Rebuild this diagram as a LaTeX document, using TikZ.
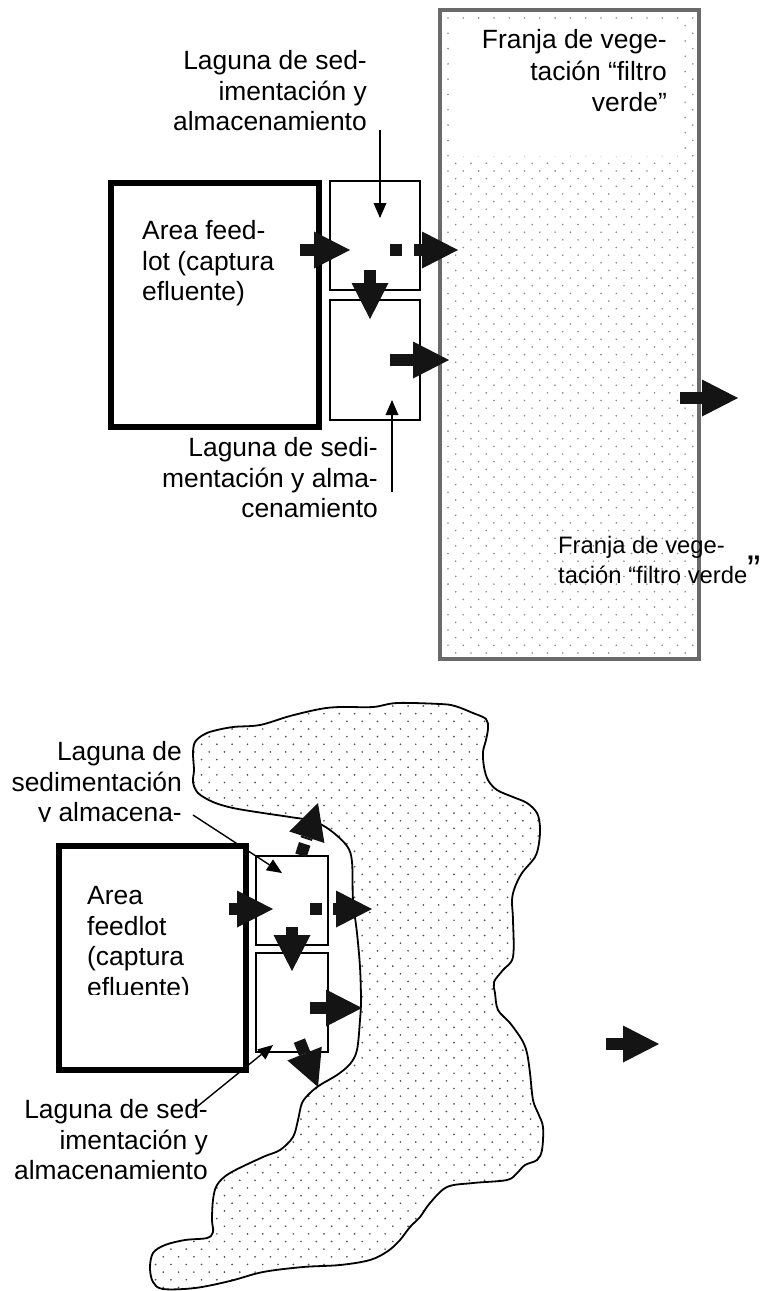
\documentclass[tikz,border=0pt]{standalone}
\usepackage{fontspec}
\setmainfont{Liberation Sans}
\usetikzlibrary{arrows.meta}
\definecolor{arrowc}{HTML}{141414}
\definecolor{stripc}{HTML}{6A6A6A}
\definecolor{dottop}{HTML}{8A8A8A}
\definecolor{dotbot}{HTML}{505050}
\tikzset{
  blockarrow/.style={draw=arrowc, line width=12pt, -{Triangle[length=36pt,width=37pt,line width=0pt]}},
  blocksq/.style={draw=arrowc, line width=12pt},
  leader/.style={draw=black, line width=1.4pt, -{Triangle[length=15pt,width=13pt,line width=0pt]}},
  txt/.style={inner sep=0pt, font=\fontsize{26.4}{30.5}\selectfont},
  smalltxt/.style={inner sep=0pt, font=\fontsize{23.8}{30}\selectfont},
  lagoon/.style={draw=black, line width=1.6pt},
  feedlot/.style={draw=black, line width=6pt},
  blob/.style={draw=black, line width=1.8pt},
}
\begin{document}
\begin{tikzpicture}[x=1pt,y=-1pt]
\useasboundingbox (0,0) rectangle (763,1291);
\fill[white] (0,0) rectangle (763,1291);

% ---------------- TOP: vegetation strip ----------------
\begin{scope}
  \clip (440,10) rectangle (699,659);
  \foreach \j in {0,...,86} {
    \foreach \i in {0,...,17} {
      \fill[dottop] ({448+\i*15.3+mod(\j,2)*7.65},{18+\j*7.65}) circle (0.9pt);
    }
  }
\end{scope}
\fill[white] (452,22) rectangle (684,156);
\draw[stripc, line width=3.5pt] (440,10) rectangle (699,659);
\node[txt, font=\fontsize{26.4}{31.5}\selectfont, anchor=north east, align=right] (stripU) at (667,29.6) {Franja de vege-\\tación “filtro\\verde”};
\node[smalltxt, anchor=north west, align=left] (stripL) at (558,535.6) {Franja de vege-\\tación “filtro verde\smash{\fontsize{40}{40}\selectfont ”}};

% feedlot and lagoons (top)
\draw[feedlot] (111,183) rectangle (319,427);
\draw[lagoon] (330,181) rectangle (420,290);
\draw[lagoon] (330,300) rectangle (420,420);
\node[txt, anchor=north west, align=left] (feedTtxt) at (142,220.6) {Area feed-\\lot (captura\\efluente)};
\node[txt, anchor=north east, align=right] (labT1) at (367,50.6) {Laguna de sed-\\imentación y\\almacenamiento};
\node[txt, anchor=north east, align=right] (labT2) at (378,437.6) {Laguna de sedi-\\mentación y alma-\\cenamiento};

\coordinate (lt1a) at (380,130);
\coordinate (lt1b) at (380,218);
\coordinate (lt2a) at (392,492);
\coordinate (lt2b) at (392,400);
\draw[leader] (lt1a) -- (lt1b);
\draw[leader] (lt2a) -- (lt2b);

\coordinate (ta1s) at (300,250);
\coordinate (ta1e) at (350,250);
\coordinate (tsqa) at (390,250);
\coordinate (tsqb) at (402,250);
\coordinate (ta2s) at (414,250);
\coordinate (ta2e) at (458,250);
\coordinate (ta3s) at (370,270);
\coordinate (ta3e) at (370,319);
\coordinate (ta4s) at (390,360);
\coordinate (ta4e) at (449,360);
\coordinate (trs) at (680,398);
\coordinate (tre) at (738,398);
\draw[blockarrow] (ta1s) -- (ta1e);
\draw[blocksq] (tsqa) -- (tsqb);
\draw[blockarrow] (ta2s) -- (ta2e);
\draw[blockarrow] (ta3s) -- (ta3e);
\draw[blockarrow] (ta4s) -- (ta4e);
\draw[blockarrow] (trs) -- (tre);

% ---------------- BOTTOM: irregular vegetation area ----------------
\def\blobpath{plot[smooth cycle, tension=0.55] coordinates {
 (260,725) (290,716) (320,709) (340,707) (373,707) (397,703) (440,704) (455,706)
 (473,713) (486,719) (488,728) (486,740) (483,752) (484,767) (488,780) (497,790)
 (513,797) (527,803) (537,813) (540,827) (539,843) (535,857) (522,873) (515,887)
 (512,900) (513,920) (513,957) (503,970) (494,982) (495,993) (498,1010) (510,1023)
 (522,1040) (527,1053) (530,1073) (533,1100) (538,1113) (543,1127) (542,1150) (537,1160)
 (525,1165) (517,1173) (507,1180) (473,1183) (447,1187) (430,1203) (420,1217) (410,1227)
 (400,1240) (388,1251) (370,1260) (340,1265) (303,1267) (263,1272) (230,1281) (195,1288)
 (163,1289) (153,1282) (150,1268) (153,1253) (165,1245) (185,1240) (207,1238) (213,1232)
 (212,1220) (213,1200) (217,1185) (230,1173) (263,1157) (280,1150) (293,1137) (298,1120)
 (302,1103) (310,1093) (320,1085) (337,1075) (350,1064) (357,1050) (360,1020) (361,1000)
 (360,967) (357,933) (353,900) (352,862) (347,846) (330,830) (313,821) (290,817)
 (263,813) (233,808) (213,802) (198,793) (193,782) (194,770) (193,753) (195,742)
 (203,735) (213,731) (233,727)}}
\begin{scope}
  \clip \blobpath;
  \foreach \j in {0,...,77} {
    \foreach \i in {0,...,26} {
      \fill[dotbot] ({148+\i*15.3+mod(\j,2)*7.65},{706+\j*7.65}) circle (0.95pt);
    }
  }
\end{scope}
\draw[blob] \blobpath;

\draw[feedlot] (59,846) rectangle (246,1070);
\draw[lagoon] (256,856) rectangle (328,945);
\draw[lagoon] (256,953) rectangle (328,1052);

\begin{scope}
  \clip (0,700) rectangle (250,821);
  \node[txt, anchor=north east, align=right] (labB1) at (182,741.6) {Laguna de\\sedimentación\\y almacena-};
\end{scope}
\begin{scope}
  \clip (62,849) rectangle (243,994);
  \node[txt, anchor=north west, align=left] (feedBtxt) at (87,886.6) {Area\\feedlot\\(captura\\efluente)};
\end{scope}
\node[txt, anchor=north east, align=right] (labB2) at (208,1099.6) {Laguna de sed-\\imentación y\\almacenamiento};

\coordinate (lb1a) at (193,815);
\coordinate (lb1b) at (282,873);
\coordinate (lb2a) at (193,1110);
\coordinate (lb2b) at (273,1045);
\draw[leader] (lb1a) -- (lb1b);
\draw[leader] (lb2a) -- (lb2b);

\coordinate (ba1s) at (229,909);
\coordinate (ba1e) at (273,909);
\coordinate (bsqa) at (310,909);
\coordinate (bsqb) at (322,909);
\coordinate (ba2s) at (333,909);
\coordinate (ba2e) at (372,909);
\coordinate (ba3s) at (292,927);
\coordinate (ba3e) at (292,971);
\coordinate (ba4s) at (310,1008);
\coordinate (ba4e) at (362,1008);
\coordinate (ba5qa) at (304.7,843.9);
\coordinate (ba5qb) at (301.0,855.3);
\coordinate (ba5s) at (306.2,839.1);
\coordinate (ba5e) at (318,803);
\coordinate (ba6s) at (299.4,1040.6);
\coordinate (ba6e) at (318,1087);
\coordinate (brs) at (606,1044);
\coordinate (bre) at (659,1044);
\draw[blockarrow] (ba1s) -- (ba1e);
\draw[blocksq] (bsqa) -- (bsqb);
\draw[blockarrow] (ba2s) -- (ba2e);
\draw[blockarrow] (ba3s) -- (ba3e);
\draw[blockarrow] (ba4s) -- (ba4e);
\draw[blocksq] (ba5qa) -- (ba5qb);
\draw[blockarrow] (ba5s) -- (ba5e);
\draw[blockarrow] (ba6s) -- (ba6e);
\draw[blockarrow] (brs) -- (bre);
\end{tikzpicture}
\end{document}
